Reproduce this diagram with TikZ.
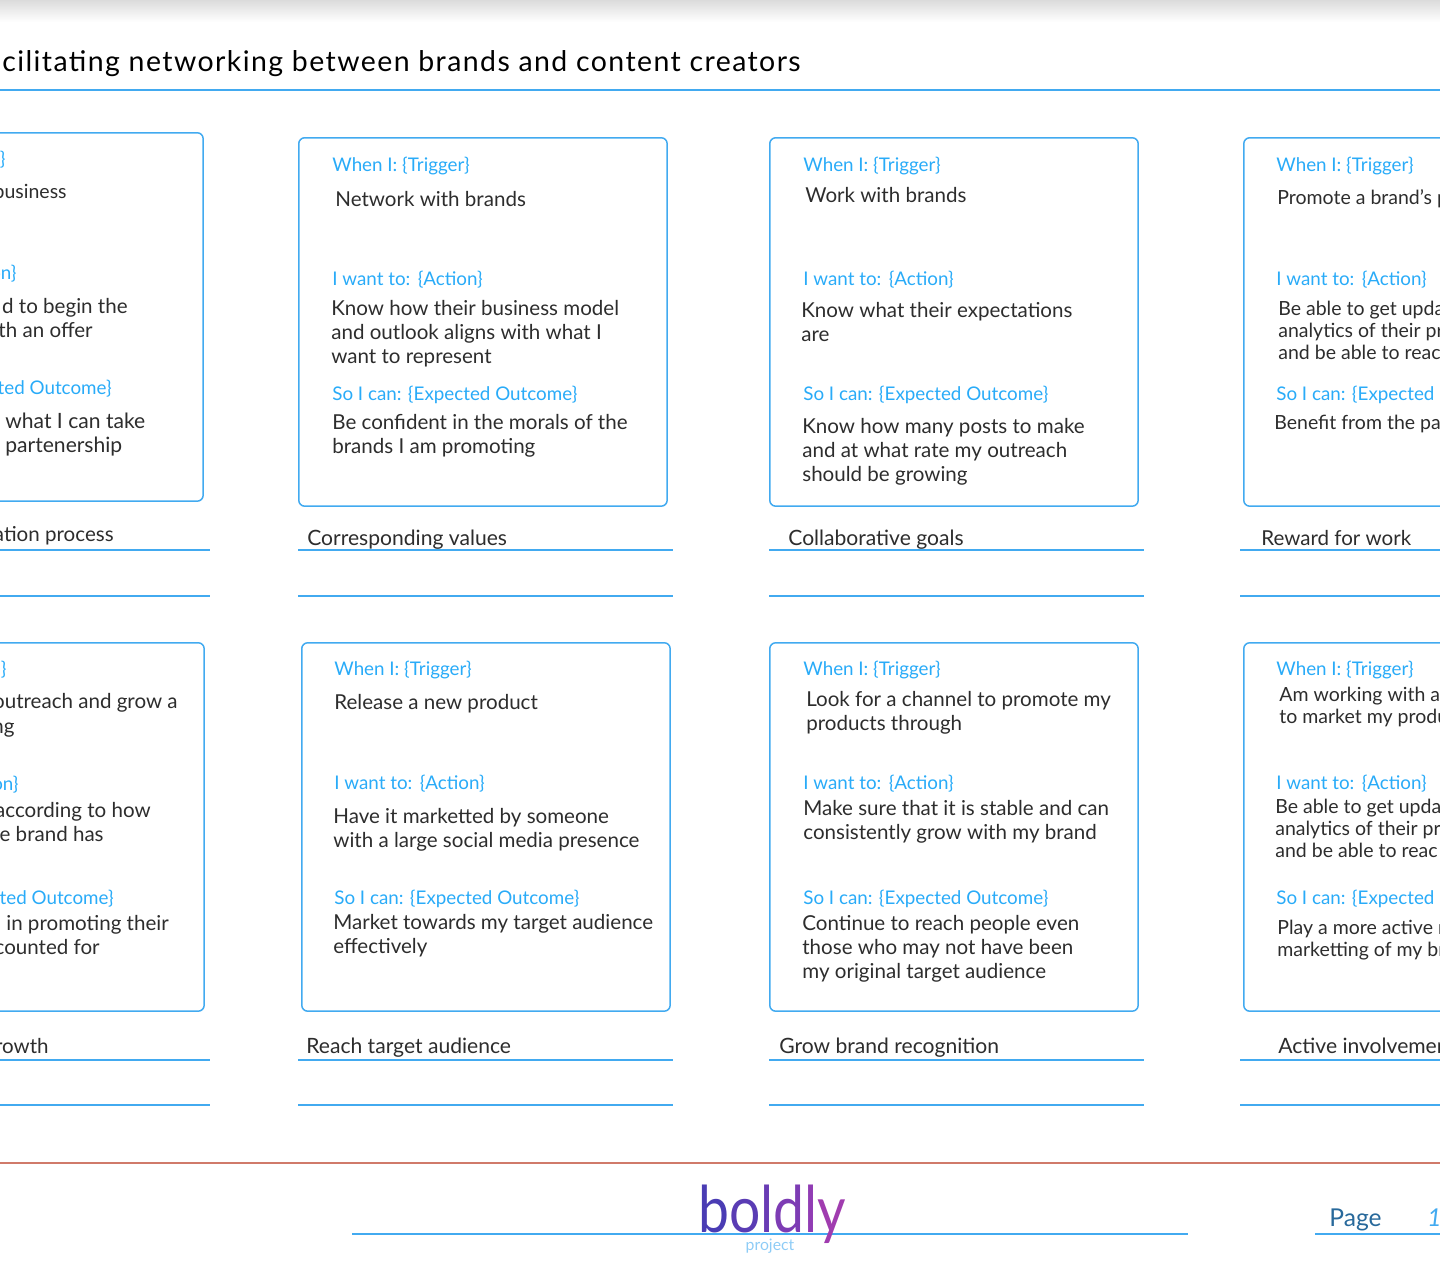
\documentclass[tikz,border=0pt]{standalone}
\usepackage{fontspec}
\usepackage{xcolor}
\usetikzlibrary{positioning}
\setmainfont{Lato}
\newfontfamily\titlefont[LetterSpace=5]{Lato}
\definecolor{linkblue}{RGB}{66,170,240}
\definecolor{headblue}{RGB}{41,171,248}
\definecolor{inkgrey}{RGB}{45,45,45}
\definecolor{footred}{RGB}{208,122,106}
\definecolor{pageblue}{RGB}{40,105,155}
\tikzset{
  cardbox/.style={draw=linkblue, line width=0.03cm, rounded corners=0.12cm, minimum width=7.37cm, minimum height=7.37cm, inner sep=0pt, anchor=north west},
  headtxt/.style={text=headblue, inner sep=0pt, anchor=base west, font=\fontsize{10.7}{13}\selectfont},
  headend/.style={headtxt, anchor=base east},
  bodytxt/.style={text=inkgrey, inner sep=0pt, anchor=base west, align=left, yshift=-0.02cm, font=\fontsize{11.7}{13.6}\selectfont},
  bodytight/.style={bodytxt, font=\fontsize{11.1}{12.5}\selectfont},
  bodyend/.style={bodytxt, anchor=base east},
  labtxt/.style={bodytxt, font=\fontsize{12}{14}\selectfont},
  labend/.style={bodytxt, anchor=base east},
  rowline/.style={draw=linkblue, line width=0.03cm},
}
\newcommand{\cardheads}[3]{%
  \node[headtxt] (#1w) at (#2,#3+34) {When I: \{Trigger\}};
  \node[headtxt] (#1a) at (#2,#3+148) {I want to:\hspace{0.4em}\{Action\}};
  \node[headtxt] (#1s) at (#2,#3+263) {So I can: \{Expected Outcome\}};
}
\begin{document}
\begin{tikzpicture}[x=0.02cm, y=-0.02cm]
        \useasboundingbox (0,0) rectangle (1440,1286);
        \clip (0,0) rectangle (1440,1286);
        \shade[top color=black!14, bottom color=white] (0,0) rectangle (1440,22);

        % Title
        \node[inner sep=0pt, anchor=base east, font=\titlefont\fontsize{16.2}{19}\selectfont] (title) at (801,71) {cilitating networking between brands and content creators};
        \draw[rowline] (0,90) -- (1440,90);

        % Left column, top
        \node[cardbox] (cardla) at (-166,132) {};
        \node[headend] (cardlaw) at (6,165) {\}};
        \node[bodyend, font=\fontsize{11.1}{13.6}\selectfont] (cardlat) at (67,197) {business};
        \node[headend] (cardlaa) at (17,279) {on\}};
        \node[bodyend] (cardlaa1) at (128,312) {d to begin the};
        \node[bodyend] (cardlaa2) at (93,336) {th an offer};
        \node[headend] (cardlas) at (112,394) {ted Outcome\}};
        \node[bodytxt, font=\fontsize{12}{13.6}\selectfont] (cardlao) at (5,451) {what I can take\\partenership};
        \node[labend] (labla) at (114,540) {ation process};
        \draw[rowline] (0,550) -- (210,550);
        \draw[rowline] (0,596) -- (210,596);

        % Corresponding values
        \node[cardbox] (cardva) at (298,137) {};
        \cardheads{cardva}{332}{137}
        \node[bodytxt] (cardvat) at (335,205) {Network with brands};
        \node[bodytxt] (cardvaa) at (331,362) {Know how their business model\\and outlook aligns with what I\\want to represent};
        \node[bodytxt] (cardvao) at (332,452) {Be confident in the morals of the\\brands I am promoting};
        \node[labtxt] (labva) at (307,544) {Corresponding values};
        \draw[rowline] (298,550) -- (673,550);
        \draw[rowline] (298,596) -- (673,596);

        % Collaborative goals
        \node[cardbox] (cardgo) at (769,137) {};
        \cardheads{cardgo}{803}{137}
        \node[bodytxt] (cardgot) at (805,201) {Work with brands};
        \node[bodytxt] (cardgoa) at (801,340) {Know what their expectations\\are};
        \node[bodytxt] (cardgoo) at (802,480) {Know how many posts to make\\and at what rate my outreach\\should be growing};
        \node[labtxt] (labgo) at (788,544) {Collaborative goals};
        \draw[rowline] (769,550) -- (1144,550);
        \draw[rowline] (769,596) -- (1144,596);

        % Reward for work
        \node[cardbox] (cardre) at (1243,137) {};
        \cardheads{cardre}{1276}{137}
        \node[bodytight] (cardret) at (1277,203) {Promote a brand's p};
        \node[bodytight] (cardrea) at (1278,358) {Be able to get upda\\analytics of their pro\\and be able to reac};
        \node[bodytight] (cardreo) at (1274,428) {Benefit from the par};
        \node[labtxt, font=\fontsize{11.7}{14}\selectfont] (labre) at (1261,544) {Reward for work};
        \draw[rowline] (1240,550) -- (1440,550);
        \draw[rowline] (1240,596) -- (1440,596);

        % Left column, bottom
        \node[cardbox] (cardlb) at (-165,642) {};
        \node[headend] (cardlbw) at (7,675) {\}};
        \node[bodyend] (cardlbt1) at (178,707) {outreach and grow a};
        \node[bodyend] (cardlbt2) at (15,732) {ng};
        \node[headend] (cardlba) at (19,790) {on\}};
        \node[bodyend] (cardlba1) at (151,816) {according to how};
        \node[bodyend] (cardlba2) at (104,840) {e brand has};
        \node[headend] (cardlbs) at (114,904) {ted Outcome\}};
        \node[bodytxt] (cardlbo1) at (6,929) {in promoting their};
        \node[bodyend] (cardlbo2) at (100,953) {counted for};
        \node[labend] (lablb) at (49,1052) {rowth};
        \draw[rowline] (0,1060) -- (210,1060);
        \draw[rowline] (0,1105) -- (210,1105);

        % Reach target audience
        \node[cardbox] (cardta) at (301,642) {};
        \cardheads{cardta}{334}{641}
        \node[bodytxt] (cardtat) at (334,708) {Release a new product};
        \node[bodytxt] (cardtaa) at (333,846) {Have it marketted by someone\\with a large social media presence};
        \node[bodytxt] (cardtao) at (333,952) {Market towards my target audience\\effectively};
        \node[labtxt] (labta) at (306,1052) {Reach target audience};
        \draw[rowline] (298,1060) -- (673,1060);
        \draw[rowline] (298,1105) -- (673,1105);

        % Grow brand recognition
        \node[cardbox] (cardgr) at (769,642) {};
        \cardheads{cardgr}{803}{641}
        \node[bodytxt] (cardgrt) at (806,729) {Look for a channel to promote my\\products through};
        \node[bodytxt] (cardgra) at (803,838) {Make sure that it is stable and can\\consistently grow with my brand};
        \node[bodytxt] (cardgro) at (802,977) {Continue to reach people even\\those who may not have been\\my original target audience};
        \node[labtxt] (labgr) at (779,1052) {Grow brand recognition};
        \draw[rowline] (769,1060) -- (1144,1060);
        \draw[rowline] (769,1105) -- (1144,1105);

        % Active involvement
        \node[cardbox] (cardin) at (1243,642) {};
        \cardheads{cardin}{1276}{641}
        \node[bodytight] (cardint) at (1279,722) {Am working with a\\to market my produ};
        \node[bodytight] (cardina) at (1275,856) {Be able to get upda\\analytics of their pro\\and be able to reac};
        \node[bodytight] (cardino) at (1277,955) {Play a more active r\\marketting of my bra};
        \node[labtxt] (labin) at (1278,1052) {Active involvemen};
        \draw[rowline] (1240,1060) -- (1440,1060);
        \draw[rowline] (1240,1105) -- (1440,1105);

        % Footer
        \draw[draw=footred, line width=0.04cm] (0,1163) -- (1440,1163);
        \draw[rowline] (352,1234) -- (1188,1234);
        \draw[rowline] (1315,1234) -- (1440,1234);
        \node[inner sep=0pt, anchor=base, xscale=0.925, yscale=1.08, font=\fontsize{34}{40}\selectfont] (logo) at (772,1232) {\textcolor[RGB]{74,60,180}{b}\textcolor[RGB]{90,60,180}{o}\textcolor[RGB]{105,60,180}{l}\textcolor[RGB]{125,60,180}{d}\textcolor[RGB]{145,60,180}{l}\textcolor[RGB]{160,60,175}{y}};
        \node[inner sep=0pt, anchor=base, text=linkblue!60, font=\fontsize{9}{11}\selectfont] (proj) at (770,1250) {project};
        \node[inner sep=0pt, anchor=base west, text=pageblue, font=\fontsize{14}{17}\selectfont] (page) at (1329,1226) {Page};
        \node[inner sep=0pt, anchor=base west, text=linkblue, font=\itshape\fontsize{14}{17}\selectfont] (pageno) at (1427,1226) {1};
\end{tikzpicture}
\end{document}
